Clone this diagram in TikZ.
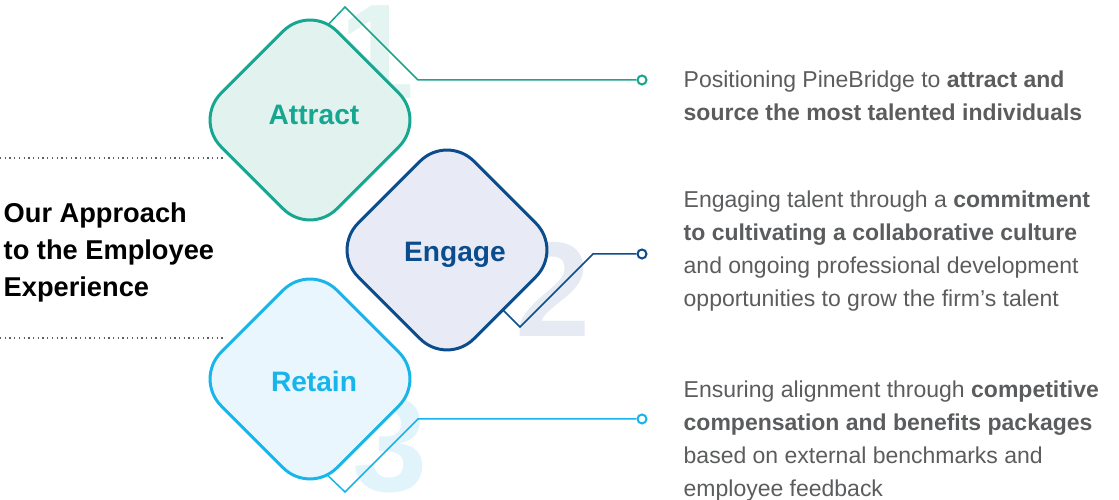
\documentclass[tikz,border=0pt]{standalone}
\usepackage{fontspec}
\setmainfont{Liberation Sans}
\usepackage{xcolor}
\usepackage{tikz}
\usetikzlibrary{calc,backgrounds}

\definecolor{attractline}{HTML}{17A68F}
\definecolor{attractfill}{HTML}{E2F3EF}
\definecolor{attractnum}{HTML}{E4F4F0}
\definecolor{engageline}{HTML}{0B4C8C}
\definecolor{engagefill}{HTML}{E8EBF5}
\definecolor{engagenum}{HTML}{E5EAF3}
\definecolor{retainline}{HTML}{17B5EA}
\definecolor{retainfill}{HTML}{EAF6FD}
\definecolor{retainnum}{HTML}{E2F4FB}
\definecolor{bodygray}{HTML}{5B5C5E}

\begin{document}
\begin{tikzpicture}[font=\fontsize{6.54pt}{9.39pt}\selectfont,
  card/.style={rectangle, rotate=45, minimum width=1.636cm, minimum height=1.636cm,
    inner sep=0pt, rounded corners=0.38cm, line width=0.85pt},
  cardlabel/.style={anchor=base, inner sep=0pt, font=\fontsize{8pt}{8pt}\selectfont\bfseries},
  lead/.style={line width=0.43pt},
  pin/.style={circle, draw, fill=white, line width=0.57pt, minimum size=0.09cm, inner sep=0pt},
  blurb/.style={anchor=north west, align=left, inner sep=0pt, text=bodygray},
  bignum/.style={anchor=base, inner sep=0pt, font=\fontsize{38.4pt}{40pt}\selectfont\bfseries},
  rule/.style={gray!75!black, line width=0.4pt, dash pattern=on 0.37pt off 0.97pt}]
  \useasboundingbox (0,0) rectangle (11.19,5.00);

  % Title with dotted rules
  \draw[rule] (0,3.42) -- (2.24,3.42);
  \draw[rule] (0,1.62) -- (2.24,1.62);
  \node[anchor=north west, align=left, inner sep=0pt,
    font=\fontsize{7.75pt}{10.5pt}\selectfont\bfseries] (title) at (0.03,2.98)
    {Our Approach\\to the Employee\\Experience};

  % Diamonds
  \node[card, draw=attractline, fill=attractfill] (attract) at (3.10,3.80) {};
  \node[card, draw=engageline, fill=engagefill] (engage) at (4.47,2.50) {};
  \node[card, draw=retainline, fill=retainfill] (retain) at (3.10,1.21) {};
  \node[cardlabel, text=attractline] (attractlabel) at (3.14,3.75) {Attract};
  \node[cardlabel, text=engageline] (engagelabel) at (4.55,2.38) {Engage};
  \node[cardlabel, text=retainline] (retainlabel) at (3.14,1.08) {Retain};

  % End points
  \node[pin, draw=attractline] (attractpin) at (6.42,4.20) {};
  \node[pin, draw=engageline] (engagepin) at (6.42,2.46) {};
  \node[pin, draw=retainline] (retainpin) at (6.42,0.81) {};

  % Numbers and leads behind the diamonds
  \begin{scope}[on background layer]
    \node[bignum, text=attractnum] (one) at (3.77,4.01) {1};
    \node[bignum, text=engagenum] (two) at (5.53,1.63) {2};
    \node[bignum, text=retainnum] (three) at (3.90,0.08) {3};

    \draw[lead, attractline] ($(attract)+(0.13,0.90)$) -- ++(0.22,0.23) -- ++(0.73,-0.73) -- (attractpin);
    \draw[lead, engageline] ($(engage)+(0.50,-0.54)$) -- ++(0.23,-0.23) -- ++(0.73,0.73) -- (engagepin);
    \draw[lead, retainline] ($(retain)+(0.10,-0.89)$) -- ++(0.25,-0.24) -- ++(0.73,0.73) -- (retainpin);
  \end{scope}

  % Descriptions
  \node[blurb] (attracttext) at (6.83,4.30)
    {Positioning PineBridge to \textbf{attract and}\\\textbf{source the most talented individuals}};
  \node[blurb] (engagetext) at (6.83,3.10)
    {Engaging talent through a \textbf{commitment}\\\textbf{to cultivating a collaborative culture}\\and ongoing professional development\\opportunities to grow the firm’s talent};
  \node[blurb] (retaintext) at (6.83,1.20)
    {Ensuring alignment through \textbf{competitive}\\\textbf{compensation and benefits packages}\\based on external benchmarks and\\employee feedback};
\end{tikzpicture}
\end{document}
